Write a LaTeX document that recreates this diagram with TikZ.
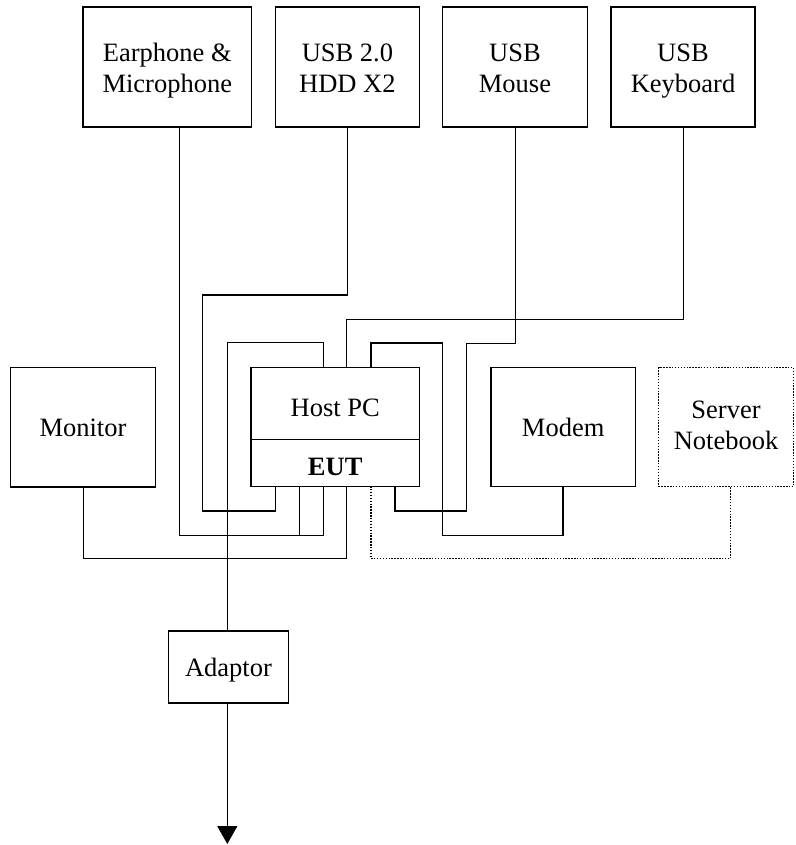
\documentclass[tikz,border=0pt]{standalone}
\usepackage{fontspec}
\setmainfont{Liberation Serif}
\usetikzlibrary{arrows.meta}
\begin{document}
\begin{tikzpicture}[x=1pt,y=-1pt,
  wire/.style={line width=1.5pt, line join=miter},
  dotwire/.style={line width=1.5pt, dash pattern=on 1.4pt off 1.5pt},
  unit/.style={draw, line width=1.5pt, rectangle, inner sep=0pt,
    font=\fontsize{26.5}{31}\selectfont, align=center,
    text height=20pt, text depth=1pt},
  twoline/.style={text height=54pt, text depth=2pt},
  dotunit/.style={unit, dash pattern=on 1.4pt off 1.5pt},
  lbl/.style={inner sep=0pt, font=\fontsize{26.5}{31}\selectfont, anchor=base}
]
\useasboundingbox (0,0) rectangle (795,845);

% peripherals on top
\node[unit, twoline, minimum width=168.7pt, minimum height=120.3pt] (ear)   at (167.3,67) {Earphone \&\\Microphone};
\node[unit, twoline, minimum width=144.3pt, minimum height=120.3pt] (hdd)   at (347.4,67) {USB 2.0\\HDD X2};
\node[unit, twoline, minimum width=144.6pt, minimum height=120.3pt] (mouse) at (515,67)   {USB\\Mouse};
\node[unit, twoline, minimum width=144pt,   minimum height=120.3pt] (kbd)   at (683,67)   {USB\\Keyboard};

% middle row
\node[unit, minimum width=144.6pt, minimum height=119.5pt] (monitor) at (83,427.2)    {Monitor};
\node[unit, minimum width=168.3pt, minimum height=119pt]   (host)    at (335.2,427.2) {};
\node[unit, minimum width=144.3pt, minimum height=119pt]   (modem)   at (563.2,427.2) {Modem};
\node[dotunit, text height=50pt, text depth=5pt, minimum width=135pt, minimum height=119pt] (server) at (726,427.2) {Server\\Notebook};

% host PC with EUT compartment
\draw[wire] (host.west |- 0,439.3) -- (host.east |- 0,439.3);
\node[lbl] (hostlbl) at (335.2,416.7) {Host PC};
\node[lbl, font=\fontsize{26.5}{31}\selectfont\bfseries] (eutlbl) at (335.2,475) {EUT};

% power adaptor
\node[unit, minimum width=120.3pt, minimum height=72pt] (adaptor) at (228.5,667) {Adaptor};

% cables
\draw[wire] (ear.south -| 179.3,0) |- (323.3,535.7) -- (host.south -| 323.3,0);
\draw[wire] (299.3,535.7) -- (host.south -| 299.3,0);
\draw[wire] (hdd.south) -- (347.4,295) -| (202.7,511) -| (host.south -| 275.3,0);
\draw[wire] (kbd.south -| 683.7,0) |- (346.7,319.3) -- (host.north -| 346.7,0);
\draw[wire] (mouse.south -| 515.3,0) |- (466.7,343.3) |- (395,511) -- (host.south -| 395,0);
\draw[wire] (modem.south) |- (442.7,535.7) |- (371,343) -- (host.north -| 371,0);
\draw[wire] (monitor.south -| 83.3,0) |- (346.7,558.5) -- (host.south -| 346.7,0);
\draw[dotwire] (server.south -| 730.7,0) |- (371,558.5) -- (host.south -| 371,0);
\draw[wire] (host.north -| 323.3,0) |- (227.3,342.7) -- (adaptor.north -| 227.3,0);
\draw[wire, -{Triangle[width=20pt,length=18pt]}] (adaptor.south -| 227.3,0) -- (227.3,844);
\end{tikzpicture}
\end{document}
